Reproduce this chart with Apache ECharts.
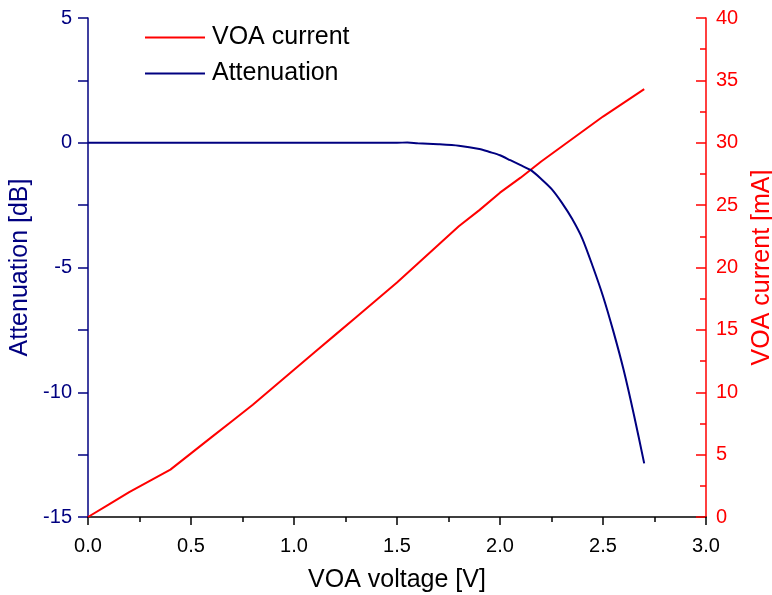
<!DOCTYPE html>
<html>
<head>
<meta charset="utf-8">
<script src="https://cdn.jsdelivr.net/npm/echarts@6/dist/echarts.min.js"></script>
<style>html,body{margin:0;padding:0;background:#fff;}#c{width:772px;height:595px;}</style>
</head>
<body>
<div id="c"></div>
<script>
// VOA current vs voltage
var voltI = [0,0.1,0.2,0.3,0.4,0.5,0.6,0.7,0.8,0.9,1.0,1.1,1.2,1.3,1.4,1.5,1.6,1.7,1.8,1.9,2.0,2.1,2.2,2.3,2.4,2.5,2.6,2.7];
var currentMA = [0,1.0,2.0,2.9,3.8,5.1,6.4,7.7,9.0,10.4,11.8,13.2,14.6,16.0,17.4,18.8,20.3,21.8,23.3,24.6,26.0,27.2,28.5,29.7,30.9,32.1,33.2,34.3];
// Attenuation vs voltage
var voltA = [0,0.1,0.2,0.3,0.4,0.5,0.6,0.7,0.8,0.9,1.0,1.1,1.2,1.3,1.4,1.5,1.55,1.6,1.7,1.8,1.9,1.95,2.0,2.05,2.1,2.15,2.2,2.25,2.3,2.35,2.4,2.45,2.5,2.55,2.6,2.65,2.7];
var attenDB = [0,0,0,0,0,0,0,0,0,0,0,0,0,0,0,0,0.01,-0.02,-0.06,-0.12,-0.25,-0.37,-0.5,-0.7,-0.9,-1.1,-1.45,-1.85,-2.4,-3.05,-3.85,-4.95,-6.15,-7.55,-9.1,-10.9,-12.85];
var xTicks = {min:0, max:3, step:0.5};
var leftTicks = {min:-15, max:5, step:5};
var rightTicks = {min:0, max:40, step:5};

var FONT = 'Liberation Sans, Arial, sans-serif';
var NAVY = '#000080', RED = '#ff0000';

function pairs(xs, ys){ return xs.map(function(x,i){ return [x, ys[i]]; }); }

var chart = echarts.init(document.getElementById('c'));
chart.setOption({
  animation: false,
  backgroundColor: '#fff',
  textStyle: {fontFamily: FONT},
  grid: {left: 88, right: 66, top: 18, bottom: 78, containLabel: false, outerBoundsMode: 'none'},
  legend: {
    orient: 'vertical', left: 145, top: 25, padding: 0, itemGap: 11,
    itemWidth: 60, itemHeight: 2,
    textStyle: {fontFamily: FONT, fontSize: 25, color: '#000', padding: [0,0,0,2]},
    data: [
      {name: 'VOA current', icon: 'rect', itemStyle: {color: RED}},
      {name: 'Attenuation', icon: 'rect', itemStyle: {color: NAVY}}
    ]
  },
  xAxis: {
    type: 'value', min: xTicks.min, max: xTicks.max, interval: xTicks.step,
    name: 'VOA voltage [V]', nameLocation: 'middle', nameGap: 51,
    nameTextStyle: {fontFamily: FONT, fontSize: 25, color: '#000'},
    axisLine: {show: true, onZero: false, lineStyle: {color: '#000', width: 1.5}},
    axisTick: {show: true, inside: false, length: 8, lineStyle: {color: '#000', width: 1.5}},
    minorTick: {show: true, splitNumber: 2, length: 5, lineStyle: {color: '#000', width: 1.5}},
    splitLine: {show: false},
    axisLabel: {fontFamily: FONT, fontSize: 20, color: '#000', margin: 19,
      formatter: function(v){ return v.toFixed(1); }}
  },
  yAxis: [
    {
      type: 'value', position: 'left', min: leftTicks.min, max: leftTicks.max, interval: leftTicks.step,
      name: 'Attenuation [dB]', nameLocation: 'middle', nameGap: 48, nameRotate: 90,
      nameTextStyle: {fontFamily: FONT, fontSize: 25, color: NAVY},
      axisLine: {show: true, onZero: false, lineStyle: {color: NAVY, width: 1.5}},
      axisTick: {show: true, inside: false, length: 10, lineStyle: {color: NAVY, width: 1.5}},
      minorTick: {show: true, splitNumber: 2, length: 10, lineStyle: {color: NAVY, width: 1.5}},
      splitLine: {show: false},
      axisLabel: {fontFamily: FONT, fontSize: 20, color: NAVY, margin: 16}
    },
    {
      type: 'value', position: 'right', min: rightTicks.min, max: rightTicks.max, interval: rightTicks.step,
      name: 'VOA current [mA]', nameLocation: 'middle', nameGap: 32, nameRotate: 90,
      nameTextStyle: {fontFamily: FONT, fontSize: 25, color: RED},
      axisLine: {show: true, onZero: false, lineStyle: {color: RED, width: 1.5}},
      axisTick: {show: true, inside: true, length: 10, lineStyle: {color: RED, width: 1.5}},
      minorTick: {show: true, splitNumber: 2, length: 6, lineStyle: {color: RED, width: 1.5}},
      splitLine: {show: false},
      axisLabel: {fontFamily: FONT, fontSize: 20, color: RED, margin: 10}
    }
  ],
  series: [
    {
      name: 'VOA current', type: 'line', yAxisIndex: 1, showSymbol: false, symbol: 'none',
      lineStyle: {color: RED, width: 2}, itemStyle: {color: RED},
      data: pairs(voltI, currentMA), z: 2
    },
    {
      name: 'Attenuation', type: 'line', yAxisIndex: 0, showSymbol: false, symbol: 'none',
      smooth: 0.25,
      lineStyle: {color: NAVY, width: 2}, itemStyle: {color: NAVY},
      data: pairs(voltA, attenDB), z: 3
    }
  ]
});
</script>
</body>
</html>
